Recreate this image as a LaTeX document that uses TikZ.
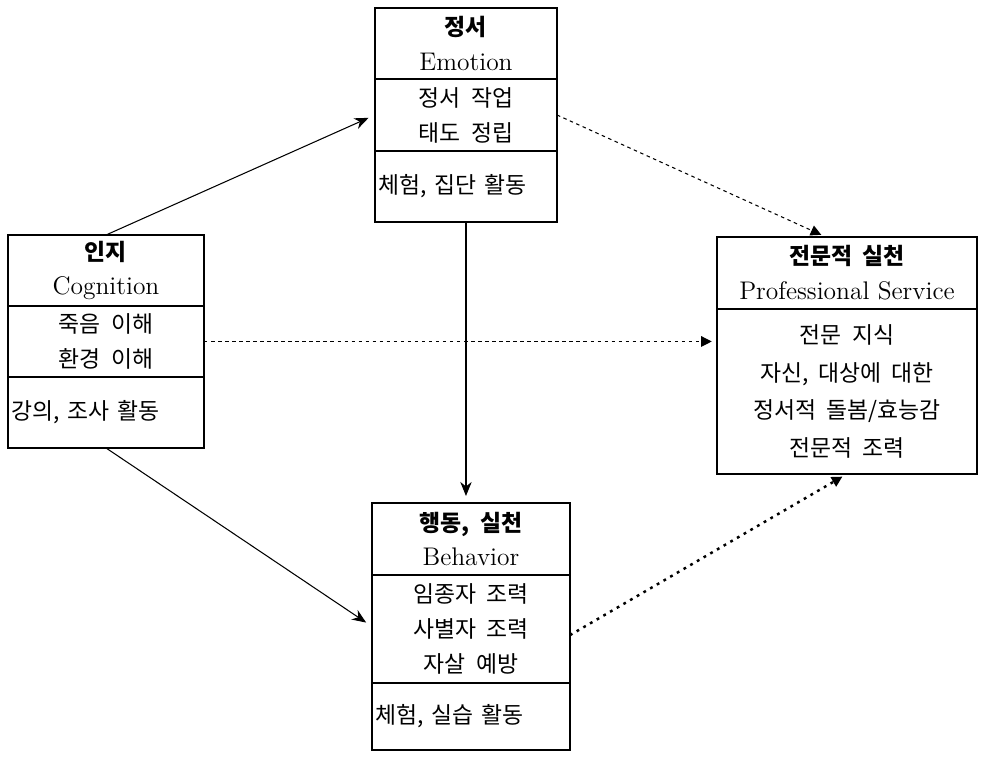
\documentclass[tikz,border=0pt]{standalone}
\usepackage{fontspec}
\newfontfamily\kr[WordSpace=2]{Noto Sans CJK KR}
\usetikzlibrary{arrows.meta, positioning, fit}
\tikzset{>/.tip={Stealth[length=8pt,width=6.5pt]}}
\tikzset{tri/.tip={Triangle[length=6pt,width=6pt]}}
\newcommand{\eng}[1]{{\rmfamily\mdseries\fontsize{14.5}{19.9}\selectfont #1}}

\begin{document}
\begin{tikzpicture}[x=0.02cm, y=-0.02cm,
  every node/.style={font=\kr\fontsize{13}{19.9}\selectfont, inner sep=0pt, outer sep=0pt},
  ttl/.style={align=center, font=\kr\bfseries\fontsize{13}{19.9}\selectfont},
  body/.style={align=center},
  act/.style={align=left, inner xsep=2pt},
  frame/.style={draw, line width=1.1pt, inner sep=0pt},
  divider/.style={draw, line width=0.6pt},
  link/.style={->, line width=0.6pt, shorten >=4pt},
  hint/.style={-tri, line width=0.6pt, dash pattern=on 2pt off 2pt, shorten >=3pt},
  dots/.style={-tri, line width=1.4pt, dash pattern=on 1.6pt off 2.8pt, shorten >=3pt}]
  \useasboundingbox (0,0) rectangle (981,758);

  % emotion
  \node(emo) [ttl, anchor=north west, minimum width=3.64cm, minimum height=1.42cm] at (375,8) {정서\\\eng{Emotion}};
  \node(emo-body) [body, below=0pt of emo, minimum width=3.64cm, minimum height=1.44cm] {정서 작업\\태도 정립};
  \node(emo-act) [act, below=0pt of emo-body, text width=3.5cm, minimum height=1.42cm] {체험, 집단 활동};
  \node(emobox) [frame, fit=(emo)(emo-act)] {};

  % cognition
  \node(cog) [ttl, anchor=north west, minimum width=3.92cm, minimum height=1.42cm] at (8,235) {인지\\\eng{Cognition}};
  \node(cog-body) [body, below=0pt of cog, minimum width=3.92cm, minimum height=1.42cm] {죽음 이해\\환경 이해};
  \node(cog-act) [act, below=0pt of cog-body, text width=3.78cm, minimum height=1.42cm] {강의, 조사 활동};
  \node(cogbox) [frame, fit=(cog)(cog-act)] {};

  % professional service
  \node(prof) [ttl, anchor=north west, minimum width=5.2cm, minimum height=1.44cm] at (717,237) {전문적 실천\\\eng{Professional Service}};
  \node(prof-body) [body, below=0pt of prof, minimum width=5.2cm, minimum height=3.3cm, font=\kr\fontsize{13}{21.3}\selectfont] {전문 지식\\자신, 대상에 대한\\정서적 돌봄/효능감\\전문적 조력};
  \node(profbox) [frame, fit=(prof)(prof-body)] {};

  % behavior
  \node(beh) [ttl, anchor=north west, minimum width=3.96cm, minimum height=1.44cm] at (372,503) {행동, 실천\\\eng{Behavior}};
  \node(beh-body) [body, below=0pt of beh, minimum width=3.96cm, minimum height=2.16cm] {임종자 조력\\사별자 조력\\자살 예방};
  \node(beh-act) [act, below=0pt of beh-body, text width=3.82cm, minimum height=1.34cm] {체험, 실습 활동};
  \node(behbox) [frame, fit=(beh)(beh-act)] {};

  \draw[divider]
   (emo-body.north west) -- (emo-body.north east)
   (emo-act.north west) -- (emo-act.north east)
   (cog-body.north west) -- (cog-body.north east)
   (cog-act.north west) -- (cog-act.north east)
   (prof-body.north west) -- (prof-body.north east)
   (beh-body.north west) -- (beh-body.north east)
   (beh-act.north west) -- (beh-act.north east);

  \draw[link] (cogbox.north) -- (emobox.west);
  \draw[link] (emobox.south) -- (emobox.south |- behbox.north);
  \draw[link] (cogbox.south) -- (behbox.west);
  \draw[hint] (cogbox.east) -- (cogbox.east -| profbox.west);
  \draw[hint] (emobox.east) -- (profbox.100);
  \draw[dots] (behbox.-5) -- (profbox.south);
\end{tikzpicture}
\end{document}
